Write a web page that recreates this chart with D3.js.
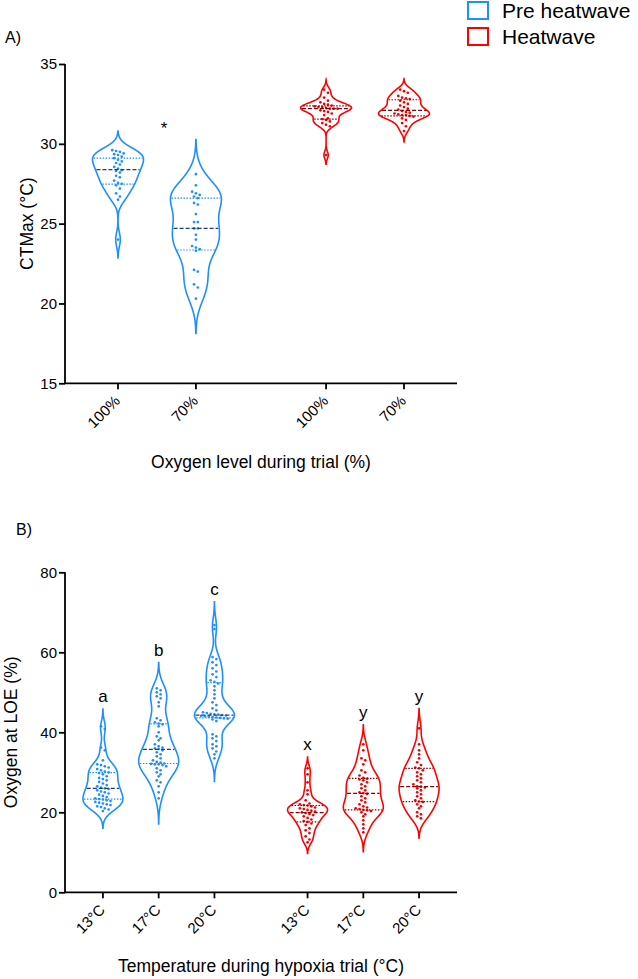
<!DOCTYPE html>
<html>
<head>
<meta charset="utf-8">
<script src="https://cdn.jsdelivr.net/npm/d3@7"></script>
<style>
  body { margin: 0; background: #fff; }
  text { font-family: "Liberation Sans", Arial, sans-serif; fill: #000; }
</style>
</head>
<body>
<svg width="638" height="979"></svg>
<script>
// ---- panel A : CTMax ----
const ctmaxCategories = ['100%', '70%', '100%', '70%']
const ctmaxGroups = ['Pre heatwave', 'Pre heatwave', 'Heatwave', 'Heatwave']
const ctmaxPre100 = [29.6, 29.55, 29.5, 29.4, 29.35, 29.3, 29.2, 29.1, 29.0, 28.9, 28.8, 28.7, 28.55, 28.45,
  28.35, 28.3, 28.2, 28.0, 27.9, 27.7, 27.55, 27.5, 27.4, 27.2, 26.9, 26.7, 26.5, 24.0]
const ctmaxPre70 = [28.1, 27.4, 27.0, 26.9, 26.8, 26.7, 26.6, 26.3, 26.2, 25.6, 25.1, 25.1, 24.7, 24.7, 24.3,
  24.0, 23.6, 23.5, 23.4, 23.3, 22.1, 22.0, 21.2, 21.0, 20.3]
const ctmaxHeat100 = [33.4, 33.2, 32.9, 32.7, 32.6, 32.5, 32.45, 32.4, 32.35, 32.3, 32.3, 32.25, 32.2, 32.2,
  32.2, 32.1, 32.05, 32.0, 31.9, 31.8, 31.6, 31.55, 31.5, 31.4, 31.3, 31.2, 31.1, 29.3]
const ctmaxHeat70 = [33.4, 33.3, 33.2, 33.0, 32.9, 32.85, 32.8, 32.7, 32.6, 32.5, 32.4, 32.3, 32.2, 32.15,
  32.05, 32.0, 31.95, 31.9, 31.85, 31.8, 31.8, 31.75, 31.7, 31.6, 31.5, 31.3, 31.1, 30.8]
// [lower quartile, median, upper quartile]
const ctmaxQuartiles = [[27.47, 28.38, 29.1], [23.35, 24.7, 26.6], [31.55, 32.2, 32.38], [31.75, 32.1, 32.76]]
const ctmaxTicks = [15, 20, 25, 30, 35]
const ctmaxStars = ['*', '', '', '']

// ---- panel B : oxygen at LOE ----
const loeCategories = ['13°C', '17°C', '20°C', '13°C', '17°C', '20°C']
const loeGroups = ['Pre heatwave', 'Pre heatwave', 'Pre heatwave', 'Heatwave', 'Heatwave', 'Heatwave']
const loePre13 = [41.5, 40.8, 36.2, 35.5, 33.0, 32.0, 31.8, 31.5, 31.2, 30.8, 30.5, 30.2, 30.0,
  29.8, 29.5, 29.0, 28.6, 28.3, 28.0, 27.6, 27.2, 26.8, 26.5, 26.2, 26.0,
  25.8, 25.5, 25.2, 25.0, 24.7, 24.4, 24.1, 23.8, 23.5, 23.3,
  23.2, 23.0, 22.8, 22.6, 22.4, 22.2, 22.0, 21.8, 21.5, 21.3, 21.0, 20.7, 20.3]
const loePre17 = [51.0, 50.5, 50.0, 49.5, 49.0, 48.5, 47.5, 46.5, 43.5, 43.0, 42.5, 42.2, 42.0, 41.5,
  40.0, 39.0, 38.5, 38.0, 37.0, 36.5, 36.2, 36.0, 35.8, 35.5,
  35.0, 34.5, 34.0, 33.5, 33.0, 32.6, 32.4, 32.2, 32.1, 32.0, 32.0, 31.8,
  31.5, 31.0, 30.5, 30.0, 29.5, 29.0, 28.0, 27.5, 26.5, 25.0, 23.5]
const loePre20 = [66.8, 65.8, 58.8, 58.3, 57.5, 56.8, 56.0, 55.2, 54.5, 53.8, 53.0, 52.6,
  52.2, 51.5, 50.5, 49.5, 48.5, 47.5, 46.8, 46.0, 45.5, 45.0, 44.8, 44.6,
  44.5, 44.4, 44.3, 44.2, 44.1, 44.0, 43.9, 43.8, 43.7, 43.6,
  43.5, 43.4, 43.2, 42.8, 39.5, 39.0, 38.5, 37.8, 37.0, 36.5, 36.0, 35.2, 34.5, 33.5]
const loeHeat13 = [31.0, 29.5, 27.5, 25.5, 24.5, 23.0, 22.2, 22.0, 21.8,
  21.7, 21.5, 21.2, 21.0, 20.8, 20.6, 20.4, 20.2, 20.0,
  19.8, 19.6, 19.3, 19.0, 18.6, 18.2, 17.8, 17.6,
  17.2, 16.8, 16.0, 15.5, 14.8, 14.0, 13.2, 12.5]
const loeHeat17 = [37.0, 35.5, 33.5, 33.0, 32.0, 30.5, 30.0, 29.2,
  28.6, 28.4, 28.2, 28.0, 27.5, 27.0, 26.5, 26.0, 25.5, 25.0, 24.8,
  24.6, 24.0, 23.5, 23.0, 22.5, 22.0, 21.5, 21.2, 21.0, 20.8, 20.6,
  20.5, 20.3, 20.0, 19.5, 19.0, 18.0, 17.0, 16.0, 15.0]
const loeHeat20 = [41.0, 37.0, 35.5, 34.5, 33.5, 32.5, 31.8, 31.2,
  31.0, 30.5, 30.0, 29.5, 29.0, 28.5, 28.0, 27.5, 27.0, 26.5,
  26.4, 26.2, 26.0, 25.5, 25.0, 24.5, 24.0, 23.5, 23.0, 22.7,
  22.6, 22.0, 21.5, 21.0, 20.0, 19.5, 19.0, 18.5]
const loeQuartiles = [[23.3, 26.0, 29.9], [32.2, 35.75, 42.1], [43.6, 44.3, 52.4],
  [17.6, 19.9, 21.7], [20.6, 24.75, 28.5], [22.65, 26.4, 31.0]]
const loeTicks = [0, 20, 40, 60, 80]
const loeLetters = ['a', 'b', 'c', 'x', 'y', 'y']

const legendLabels = ['Pre heatwave', 'Heatwave']

// colours per group
const colours = {
  'Pre heatwave': { line: '#1e8fff', dot: '#1e8fff', median: '#1c3f78', quart: '#1e8fff' },
  'Heatwave': { line: '#ff0000', dot: '#ee0000', median: '#7a0a0a', quart: '#8b0000' }
}

const svg = d3.select('svg')
const axisLeft = 65
const axisRight = 457

let silverman = (v) => {
  const s = v.slice().sort(d3.ascending)
  const iqr = d3.quantile(s, 0.75) - d3.quantile(s, 0.25)
  const sd = d3.deviation(s)
  return 0.8 * 0.9 * Math.min(sd, iqr / 1.34) * Math.pow(s.length, -0.2)
}

let kde = (values, bw, lo, hi, steps) => {
  const out = []
  for (let k = 0; k <= steps; k++) {
    const y = lo + (hi - lo) * k / steps
    let d = 0
    values.forEach(v => { const z = (y - v) / bw; d += Math.exp(-0.5 * z * z) })
    out.push([y, d])
  }
  return out
}

let drawPanel = (cfg) => {
  const n = cfg.categories.length
  const groupNames = Array.from(new Set(cfg.groups))
  const pad = 0.68, gap = 0.67
  const slot = cfg.categories.map((c, i) => pad + i + groupNames.indexOf(cfg.groups[i]) * gap)
  const xScale = d3.scaleLinear().domain([0, pad * 2 + (n - 1) + gap]).range([axisLeft, axisRight])
  const yScale = d3.scaleLinear().domain(cfg.yDomain).range([cfg.bottom, cfg.top])

  const g = svg.append('g')

  cfg.series.forEach((vals, i) => {
    const col = colours[cfg.groups[i]]
    const cx = xScale(slot[i])
    const bw = silverman(vals)
    const lo = d3.min(vals) - 2.7 * bw
    const hi = d3.max(vals) + 2.7 * bw
    const dens = kde(vals, bw, lo, hi, 300)
    const maxD = d3.max(dens, d => d[1])
    const prof = dens.map((d, k) => [d[0], (k === 0 || k === dens.length - 1) ? 0 : d[1] / maxD * cfg.halfWidth])

    const area = d3.area()
      .y(d => yScale(d[0]))
      .x0(d => cx - d[1])
      .x1(d => cx + d[1])
      .curve(d3.curveBasis)
    g.append('path')
      .attr('d', area(prof))
      .attr('fill', 'none')
      .attr('stroke', col.line)
      .attr('stroke-width', 1.6)

    const widthAt = (v) => {
      const k = d3.bisector(d => d[0]).left(prof, v)
      if (k <= 0 || k >= prof.length) return 0
      const a = prof[k - 1], b = prof[k]
      return a[1] + (b[1] - a[1]) * (v - a[0]) / (b[0] - a[0])
    }

    // dots, laid out in rows
    const sorted = vals.slice().sort(d3.descending)
    const rows = []
    sorted.forEach(v => {
      const py = yScale(v)
      const last = rows[rows.length - 1]
      if (last && Math.abs(yScale(last[0]) - py) < 3.4) last.push(v)
      else rows.push([v])
    })
    rows.forEach(row => {
      row.forEach((v, k) => {
        g.append('circle')
          .attr('cx', cx + (k - (row.length - 1) / 2) * 3.8)
          .attr('cy', yScale(v))
          .attr('r', 1.35)
          .attr('fill', col.dot)
      })
    })

    // quartile + median lines
    const q = cfg.quartiles[i]
    ;[q[0], q[2]].forEach(v => {
      const w = widthAt(v)
      g.append('line')
        .attr('x1', cx - w + 1).attr('x2', cx + w - 1)
        .attr('y1', yScale(v)).attr('y2', yScale(v))
        .attr('stroke', col.quart)
        .attr('stroke-width', 1.2)
        .attr('stroke-dasharray', '1.5,1.5')
    })
    const wm = widthAt(q[1])
    g.append('line')
      .attr('x1', cx - wm + 1).attr('x2', cx + wm - 1)
      .attr('y1', yScale(q[1])).attr('y2', yScale(q[1]))
      .attr('stroke', col.median)
      .attr('stroke-width', 1.3)
      .attr('stroke-dasharray', '4,2')

    if (cfg.letters && cfg.letters[i]) {
      g.append('text')
        .attr('x', cx)
        .attr('y', yScale(hi) - 6)
        .attr('text-anchor', 'middle')
        .style('font-size', '17px')
        .text(cfg.letters[i])
    }
  })

  // axes
  const yAxis = d3.axisLeft(yScale).tickValues(cfg.ticks).tickSize(6).tickPadding(2)
  const ya = svg.append('g')
    .attr('transform', 'translate(' + axisLeft + ',0)')
    .call(yAxis)
  ya.select('.domain').attr('d', 'M0,' + cfg.top + 'V' + cfg.bottom)

  const xa = svg.append('g').attr('transform', 'translate(0,' + cfg.bottom + ')')
  xa.append('line').attr('x1', axisLeft).attr('x2', axisRight).attr('stroke', '#000').attr('stroke-width', 1.8)
  cfg.categories.forEach((c, i) => {
    const x = xScale(slot[i])
    xa.append('line').attr('x1', x).attr('x2', x).attr('y1', 0).attr('y2', 6)
      .attr('stroke', '#000').attr('stroke-width', 1.8)
    xa.append('text')
      .attr('transform', 'translate(' + (x + 3) + ',18.5) rotate(-45)')
      .attr('text-anchor', 'end')
      .style('font-size', '15px')
      .text(c)
  })
  ya.selectAll('path, line').attr('stroke-width', 1.8)
  ya.selectAll('text').style('font-size', '15px').attr('font-family', null)

  svg.append('text')
    .attr('x', (axisLeft + axisRight) / 2)
    .attr('y', cfg.xTitleY)
    .attr('text-anchor', 'middle')
    .style('font-size', '17.5px')
    .text(cfg.xTitle)
  svg.append('text')
    .attr('transform', 'translate(' + cfg.yTitleX + ',' + (cfg.top + cfg.bottom) / 2 + ') rotate(-90)')
    .attr('text-anchor', 'middle')
    .style('font-size', '17.5px')
    .text(cfg.yTitle)
  svg.append('text')
    .attr('x', cfg.tagX).attr('y', cfg.tagY)
    .style('font-size', '16px')
    .text(cfg.tag)

  return { xScale, yScale, slot }
}

const panelA = drawPanel({
  categories: ctmaxCategories, groups: ctmaxGroups,
  series: [ctmaxPre100, ctmaxPre70, ctmaxHeat100, ctmaxHeat70],
  quartiles: ctmaxQuartiles, ticks: ctmaxTicks,
  yDomain: [15, 35], top: 64, bottom: 383.3, halfWidth: 25.5,
  xTitle: 'Oxygen level during trial (%)', xTitleY: 468,
  yTitle: 'CTMax (°C)', yTitleX: 33,
  tag: 'A)', tagX: 5, tagY: 43
})

// significance star between the two pre-heatwave violins
ctmaxStars.forEach((s, i) => {
  if (!s) return
  const x = (panelA.xScale(panelA.slot[i]) + panelA.xScale(panelA.slot[i + 1])) / 2 + 7
  svg.append('text')
    .attr('x', x).attr('y', panelA.yScale(30.6))
    .attr('text-anchor', 'middle')
    .style('font-size', '17px')
    .text(s)
})

drawPanel({
  categories: loeCategories, groups: loeGroups,
  series: [loePre13, loePre17, loePre20, loeHeat13, loeHeat17, loeHeat20],
  quartiles: loeQuartiles, ticks: loeTicks, letters: loeLetters,
  yDomain: [0, 80], top: 572.3, bottom: 892.3, halfWidth: 20,
  xTitle: 'Temperature during hypoxia trial (°C)', xTitleY: 972,
  yTitle: 'Oxygen at LOE (%)', yTitleX: 17,
  tag: 'B)', tagX: 16, tagY: 535
})

// legend
const legend = svg.append('g')
legendLabels.forEach((lab, i) => {
  legend.append('rect')
    .attr('x', 468).attr('y', 2 + i * 26)
    .attr('width', 20).attr('height', 17)
    .attr('fill', 'none')
    .attr('stroke', colours[lab].line)
    .attr('stroke-width', 2)
  legend.append('text')
    .attr('x', 502).attr('y', 17.5 + i * 26)
    .style('font-size', '21px')
    .text(lab)
})
</script>
</body>
</html>
